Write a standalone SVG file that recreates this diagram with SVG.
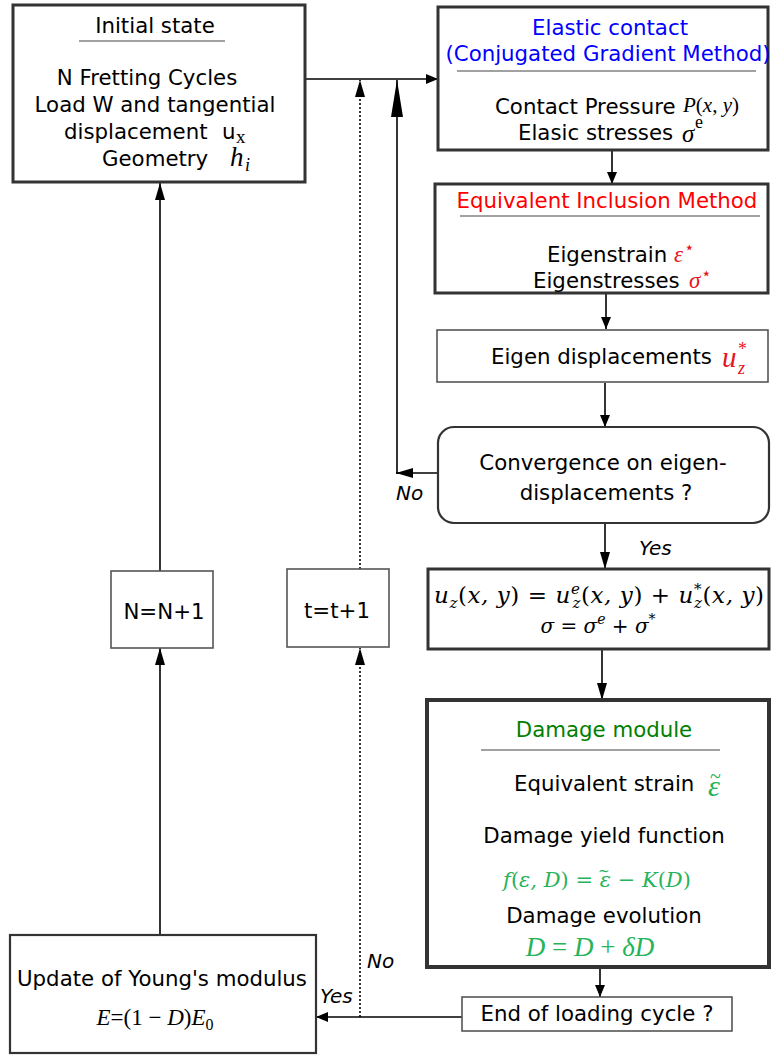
<svg xmlns="http://www.w3.org/2000/svg" width="771" height="1055" viewBox="0 0 771 1055">
<style>
.t{font-family:"DejaVu Sans",sans-serif;font-size:21.3px;fill:#000}
.lb{font-family:"DejaVu Sans",sans-serif;font-size:20px;font-style:italic;fill:#000}
.m{font-family:"Liberation Serif",serif;font-style:italic}
.mr{font-family:"Liberation Serif",serif;font-style:normal}
.dm{font-family:"DejaVu Serif",serif;font-style:italic}
.dmr{font-family:"DejaVu Serif",serif;font-style:normal}
.box{fill:#fff;stroke:#333;stroke-width:3}
.thin{fill:#fff;stroke:#555;stroke-width:1.6}
.ln{stroke:#000;stroke-width:1.6;fill:none}
.gl{stroke:#444;stroke-width:1.2;fill:none}
.dot{stroke:#000;stroke-width:1.6;fill:none;stroke-dasharray:2 2}
.red{fill:#e8141c}
.grn{fill:#26b35a}
</style>
<defs>
<marker id="ah" markerWidth="12" markerHeight="10" refX="12" refY="5" orient="auto" markerUnits="userSpaceOnUse"><path d="M0,0 L12,5 L0,10 Z" fill="#000"/></marker>
<marker id="ahs" markerWidth="17" markerHeight="10" refX="17" refY="5" orient="auto" markerUnits="userSpaceOnUse"><path d="M0,0 L17,5 L0,10 Z" fill="#000"/></marker>
<marker id="ahl" markerWidth="37" markerHeight="12" refX="37" refY="6" orient="auto" markerUnits="userSpaceOnUse"><path d="M0,0 L37,6 L0,12 Z" fill="#000"/></marker>
</defs>

<g id="connectors">
<line class="ln" x1="305" y1="79" x2="438" y2="79" marker-end="url(#ah)"/>
<line class="ln" x1="397" y1="474" x2="397" y2="80" marker-end="url(#ahl)"/>
<line class="ln" x1="438" y1="473" x2="396" y2="473" marker-end="url(#ahs)"/>
<line class="dot" x1="360" y1="569" x2="360" y2="80" marker-end="url(#ahs)"/>
<line class="dot" x1="360" y1="1017" x2="360" y2="648" marker-end="url(#ahs)"/>
<line class="ln" x1="612" y1="151" x2="612" y2="184" marker-end="url(#ah)"/>
<line class="ln" x1="606" y1="294" x2="606" y2="329" marker-end="url(#ah)"/>
<line class="ln" x1="605" y1="383" x2="605" y2="427" marker-end="url(#ah)"/>
<line class="ln" x1="605" y1="523" x2="605" y2="569" marker-end="url(#ahs)"/>
<line class="ln" x1="602" y1="650" x2="602" y2="700" marker-end="url(#ahs)"/>
<line class="ln" x1="600" y1="968" x2="600" y2="997" marker-end="url(#ah)"/>
<line class="ln" x1="462" y1="1017" x2="316" y2="1017" marker-end="url(#ah)"/>
<line class="ln" x1="160" y1="935" x2="160" y2="648" marker-end="url(#ahs)"/>
<line class="ln" x1="160" y1="571" x2="160" y2="183" marker-end="url(#ahs)"/>
<text class="lb" x="396" y="500">No</text>
<text class="lb" x="639" y="555">Yes</text>
<text class="lb" x="320" y="1003">Yes</text>
<text class="lb" x="367" y="968">No</text>
</g>

<g id="initial">
<rect class="box" x="13" y="5" width="292" height="177"/>
<text class="t" x="155" y="33" text-anchor="middle">Initial state</text>
<line class="gl" x1="79" y1="41" x2="225" y2="41"/>
<text class="t" x="147" y="85" text-anchor="middle">N Fretting Cycles</text>
<text class="t" x="155" y="112" text-anchor="middle">Load W and tangential</text>
<text class="t" x="64" y="139">displacement</text>
<text class="t" x="222" y="139">u</text>
<text class="mr" x="236" y="143" font-size="19">x</text>
<text class="t" x="102" y="166">Geometry</text>
<text class="m" x="230" y="166" font-size="27">h</text>
<text class="m" x="245" y="171" font-size="18">i</text>
</g>

<g id="elastic">
<rect class="box" x="438" y="7" width="330" height="143"/>
<text class="t" x="610" y="35" text-anchor="middle" style="fill:#0000ff">Elastic contact</text>
<text class="t" x="608" y="61" text-anchor="middle" style="fill:#0000ff">(Conjugated Gradient Method)</text>
<line class="gl" x1="457" y1="71" x2="756" y2="71"/>
<text class="t" x="495" y="114">Contact Pressure</text>
<text class="m" x="683" y="112" font-size="21">P<tspan class="mr">(</tspan>x<tspan class="mr">, </tspan>y<tspan class="mr">)</tspan></text>
<text class="t" x="518" y="140">Elasic stresses</text>
<text class="m" x="682" y="142" font-size="25">σ</text>
<text class="mr" x="695" y="128" font-size="18">e</text>
</g>

<g id="eim">
<rect class="box" x="435" y="184" width="333" height="109"/>
<text class="t" x="607" y="208" text-anchor="middle" style="fill:#ff0000">Equivalent Inclusion Method</text>
<line class="gl" x1="460" y1="216" x2="760" y2="216"/>
<text class="t" x="547" y="262">Eigenstrain</text>
<text class="m red" x="674" y="262" font-size="23">ε</text>
<text class="mr red" x="684" y="253" font-size="17">⋆</text>
<text class="t" x="533" y="288">Eigenstresses</text>
<text class="m red" x="689" y="288" font-size="23">σ</text>
<text class="mr red" x="701" y="279" font-size="17">⋆</text>
</g>

<g id="eigendisp">
<rect class="thin" x="437" y="330" width="331" height="52"/>
<text class="t" x="491" y="364">Eigen displacements</text>
<text class="m red" x="722" y="367" font-size="29">u</text>
<text class="m red" x="738" y="374" font-size="18">z</text>
<text class="mr red" x="738" y="355" font-size="18">*</text>
</g>

<g id="convergence">
<rect x="438" y="427" width="331" height="96" rx="16" ry="16" fill="#fff" stroke="#333" stroke-width="2.2"/>
<text class="t" x="603" y="470" text-anchor="middle">Convergence on eigen-</text>
<text class="t" x="606" y="500" text-anchor="middle">displacements ?</text>
</g>

<g id="superpose">
<rect class="box" x="428" y="569" width="341" height="80"/>
<text class="dm" x="599" y="603" text-anchor="middle" font-size="23" textLength="330">u<tspan font-size="15" dy="5">z</tspan><tspan class="dmr" dy="-5">(</tspan>x, y<tspan class="dmr">) = </tspan>u<tspan font-size="15" dy="-9">e</tspan><tspan font-size="15" dy="14" dx="-8">z</tspan><tspan class="dmr" dy="-5">(</tspan>x, y<tspan class="dmr">) + </tspan>u<tspan class="dmr" font-size="15" dy="-9">*</tspan><tspan font-size="15" dy="14" dx="-8">z</tspan><tspan class="dmr" dy="-5">(</tspan>x, y<tspan class="dmr">)</tspan></text>
<text class="dm" x="598" y="633" text-anchor="middle" font-size="20">σ<tspan class="dmr"> = </tspan>σ<tspan font-size="14" dy="-9">e</tspan><tspan class="dmr" dy="9"> + </tspan>σ<tspan class="dmr" font-size="14" dy="-9">*</tspan></text>
</g>

<g id="damage">
<rect x="427" y="700" width="342" height="267" fill="#fff" stroke="#333" stroke-width="4"/>
<text class="t" x="604" y="737" text-anchor="middle" style="fill:#008000">Damage module</text>
<line class="gl" x1="481" y1="750" x2="720" y2="750"/>
<text class="t" x="514" y="791">Equivalent strain</text>
<text class="m grn" x="708" y="796" font-size="30">ε</text>
<text class="mr grn" x="710" y="783" font-size="20">~</text>
<text class="dm grn" x="597" y="887" text-anchor="middle" font-size="21">f<tspan class="dmr">(</tspan>ε, D<tspan class="dmr">) = </tspan>ε<tspan class="dmr"> − </tspan>K<tspan class="dmr">(</tspan>D<tspan class="dmr">)</tspan></text>
<text class="dmr grn" x="598" y="876" font-size="14">~</text>
<text class="t" x="604" y="843" text-anchor="middle">Damage yield function</text>
<text class="t" x="604" y="923" text-anchor="middle">Damage evolution</text>
<text class="m grn" x="590" y="956" text-anchor="middle" font-size="27">D<tspan class="mr"> = </tspan>D<tspan class="mr"> + </tspan>δD</text>
</g>

<g id="endcycle">
<rect class="thin" x="462" y="997" width="270" height="34"/>
<text class="t" x="597" y="1021" text-anchor="middle">End of loading cycle ?</text>
</g>

<g id="update">
<rect x="10" y="935" width="306" height="118" fill="#fff" stroke="#333" stroke-width="2.2"/>
<text class="t" x="162" y="986" text-anchor="middle">Update of Young's modulus</text>
<text class="m" x="155" y="1025" text-anchor="middle" font-size="23">E<tspan class="mr">=(1 − </tspan>D<tspan class="mr">)</tspan>E<tspan class="mr" font-size="16" dy="5">0</tspan></text>
</g>

<g id="ncycle">
<rect class="thin" x="111" y="571" width="102" height="77"/>
<text class="t" x="164" y="619" text-anchor="middle">N=N+1</text>
</g>

<g id="tstep">
<rect class="thin" x="287" y="569" width="102" height="78"/>
<text class="t" x="337" y="618" text-anchor="middle">t=t+1</text>
</g>
</svg>
